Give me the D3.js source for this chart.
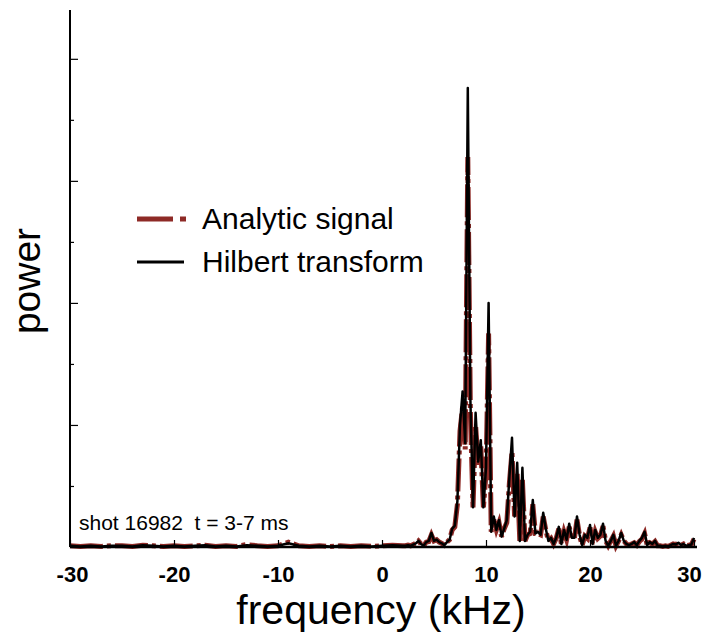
<html>
<head>
<meta charset="utf-8">
<title>power spectrum</title>
<style>
  body { margin: 0; background: #fff; }
  text { font-family: Arial, "Liberation Sans", sans-serif; }
</style>
</head>
<body>
<svg id="chart" width="705" height="632"></svg>
<script src="https://d3js.org/d3.v7.min.js"></script>
<script>
// frequency grid (kHz): coarse where the spectrum is flat, fine where it has structure
let lowFreq = [-30, -29, -28, -27, -26, -25, -24, -23, -22, -21, -20, -19, -18, -17, -16, -15, -14, -13, -12, -11,
               -10, -9, -8, -7, -6, -5, -4, -3, -2, -1, 0, 1, 2]
let lowHilbert = [0.02, 0.01, 0.02, 0.01, 0.02, 0.02, 0.01, 0.03, 0.02, 0.01, 0.02, 0.01, 0.02, 0.03, 0.01, 0.02, 0.01, 0.03, 0.02, 0.01,
                  0.02, 0.06, 0.02, 0.01, 0.02, 0.01, 0.02, 0.01, 0.02, 0.01, 0.02, 0.03, 0.02]
let lowAnalytic = [0.02, 0.01, 0.02, 0.01, 0.02, 0.02, 0.01, 0.03, 0.02, 0.01, 0.02, 0.01, 0.02, 0.03, 0.01, 0.02, 0.01, 0.04, 0.02, 0.01,
                   0.02, 0.08, 0.02, 0.01, 0.02, 0.01, 0.02, 0.01, 0.02, 0.01, 0.02, 0.03, 0.02]

// 2.25 .. 30 kHz in 0.25 kHz steps
let highFreq = d3.range(2.25, 30.001, 0.25)
let highHilbert = [
  0.02, 0.03, 0.02, 0.04,   // 2.25 - 3
  0.06, 0.10, 0.05, 0.02,   // 3.25 - 4
  0.08, 0.10, 0.23, 0.10,   // 4.25 - 5
  0.12, 0.08, 0.06, 0.03,   // 5.25 - 6
  0.08, 0.12, 0.30, 0.35,   // 6.25 - 7
  0.75, 2.00, 2.55, 1.70,   // 7.25 - 8
  7.52, 2.40, 0.65, 2.20,   // 8.25 - 9
  1.40, 1.75, 0.65, 1.30,   // 9.25 - 10
  4.00, 0.25, 0.50, 0.28,   // 10.25 - 11
  0.44, 0.17, 0.30, 0.44,   // 11.25 - 12
  1.15, 1.79, 0.50, 1.38,   // 12.25 - 13
  0.10, 1.30, 0.10, 0.20,   // 13.25 - 14
  0.25, 0.77, 0.22, 0.25,   // 14.25 - 15
  0.20, 0.56, 0.30, 0.10,   // 15.25 - 16
  0.15, 0.05, 0.15, 0.33,   // 16.25 - 17
  0.05, 0.28, 0.12, 0.38,   // 17.25 - 18
  0.15, 0.15, 0.50, 0.20,   // 18.25 - 19
  0.03, 0.20, 0.15, 0.36,   // 19.25 - 20
  0.05, 0.28, 0.15, 0.20,   // 20.25 - 21
  0.38, 0.10, 0.02, 0.10,   // 21.25 - 22
  0.20, 0.02, 0.10, 0.23,   // 22.25 - 23
  0.10, 0.05, 0.03, 0.05,   // 23.25 - 24
  0.08, 0.03, 0.10, 0.15,   // 24.25 - 25
  0.25, 0.03, 0.08, 0.05,   // 25.25 - 26
  0.10, 0.02, 0.02, 0.01,   // 26.25 - 27
  0.02, 0.01, 0.03, 0.05,   // 27.25 - 28
  0.04, 0.07, 0.03, 0.05,   // 28.25 - 29
  0.02, 0.03, 0.04, 0.15    // 29.25 - 30
]
let highAnalytic = [
  0.02, 0.03, 0.02, 0.04,
  0.06, 0.10, 0.05, 0.02,
  0.08, 0.09, 0.20, 0.10,
  0.12, 0.08, 0.06, 0.03,
  0.08, 0.12, 0.28, 0.33,
  0.70, 1.90, 2.30, 1.60,
  6.39, 2.20, 0.65, 2.00,
  1.35, 1.65, 0.65, 1.20,
  3.50, 0.25, 0.45, 0.28,
  0.40, 0.17, 0.30, 0.40,
  1.05, 1.56, 0.50, 1.20,
  0.10, 1.10, 0.10, 0.20,
  0.22, 0.70, 0.22, 0.22,
  0.20, 0.50, 0.28, 0.10,
  0.14, 0.05, 0.14, 0.30,
  0.05, 0.25, 0.12, 0.33,
  0.14, 0.14, 0.45, 0.18,
  0.03, 0.18, 0.14, 0.32,
  0.05, 0.25, 0.14, 0.18,
  0.34, 0.10, 0.02, 0.10,
  0.18, 0.02, 0.10, 0.20,
  0.10, 0.05, 0.03, 0.05,
  0.07, 0.03, 0.09, 0.13,
  0.22, 0.03, 0.07, 0.05,
  0.09, 0.02, 0.02, 0.01,
  0.02, 0.01, 0.03, 0.05,
  0.04, 0.07, 0.03, 0.05,
  0.02, 0.03, 0.04, 0.13
]

let xTicks = [-30, -20, -10, 0, 10, 20, 30]
let yTicks = [1, 2, 3, 4, 5, 6, 7, 8]

let freq = lowFreq.concat(highFreq)
let hilbert = lowHilbert.concat(highHilbert)
let analytic = lowAnalytic.concat(highAnalytic)
let hilbertPts = freq.map((f, i) => [f, hilbert[i]])
let analyticPts = freq.map((f, i) => [f, analytic[i]])

let svg = d3.select("#chart")
let x = d3.scaleLinear().domain([-30, 30]).range([70, 694])
let y = d3.scaleLinear().domain([0, 8.8]).range([547, 10])
let red = "#8e2a26"

let line = d3.line().x(d => x(d[0])).y(d => y(d[1]))

// analytic signal: thick dash-dot, drawn under the hilbert trace
svg.append("path")
   .datum(analyticPts)
   .attr("fill", "none")
   .attr("stroke", red)
   .attr("stroke-width", 5)
   .attr("stroke-dasharray", "33,4,4,4")
   .attr("d", line)

// x axis: ticks point up into the plot
let xAxis = svg.append("g")
   .attr("transform", "translate(0,547)")
   .call(d3.axisBottom(x).tickValues(xTicks).tickSizeInner(-7).tickSizeOuter(0)
           .tickPadding(19).tickFormat(d => String(d)))
xAxis.select(".domain").attr("stroke-width", 2.5).attr("d", "M70,0H697")
xAxis.selectAll(".tick line").attr("stroke-width", 1.2)
xAxis.selectAll(".tick text")
   .attr("font-size", 22)
   .attr("font-weight", "bold")
   .attr("fill", "#000")
   .attr("font-family", "Arial, 'Liberation Sans', sans-serif")
   .attr("dx", d => d == 30 ? -5 : d == -30 ? 2 : 0)

// y axis: no labels, alternating long and short ticks
let yAxis = svg.append("g")
   .attr("transform", "translate(70,0)")
   .call(d3.axisRight(y).tickValues(yTicks).tickSize(8).tickSizeOuter(0).tickFormat(""))
yAxis.select(".domain").attr("stroke-width", 2).attr("d", "M0,10V547")
yAxis.selectAll(".tick line")
   .attr("x2", d => d % 2 == 0 ? 8 : 4)
   .attr("stroke-width", 1.2)

// hilbert transform trace on top
svg.append("path")
   .datum(hilbertPts)
   .attr("fill", "none")
   .attr("stroke", "#000")
   .attr("stroke-width", 2.5)
   .attr("stroke-linejoin", "round")
   .attr("d", line)

// legend
svg.append("line").attr("x1", 137).attr("x2", 190).attr("y1", 219).attr("y2", 219)
   .attr("stroke", red).attr("stroke-width", 5).attr("stroke-dasharray", "36,7,6,20")
svg.append("line").attr("x1", 137).attr("x2", 184).attr("y1", 262).attr("y2", 262)
   .attr("stroke", "#000").attr("stroke-width", 3)
svg.append("text").attr("x", 202).attr("y", 229).attr("font-size", 30).text("Analytic signal")
svg.append("text").attr("x", 202).attr("y", 272).attr("font-size", 30).text("Hilbert transform")

svg.append("text").attr("x", 79).attr("y", 530).attr("font-size", 21).attr("xml:space", "preserve")
   .text("shot 16982  t = 3-7 ms")

// axis titles
svg.append("text").attr("x", 381).attr("y", 624).attr("font-size", 41)
   .attr("text-anchor", "middle").text("frequency (kHz)")
svg.append("text").attr("transform", "translate(40,281) rotate(-90)").attr("font-size", 39)
   .attr("text-anchor", "middle").text("power")
</script>
</body>
</html>
